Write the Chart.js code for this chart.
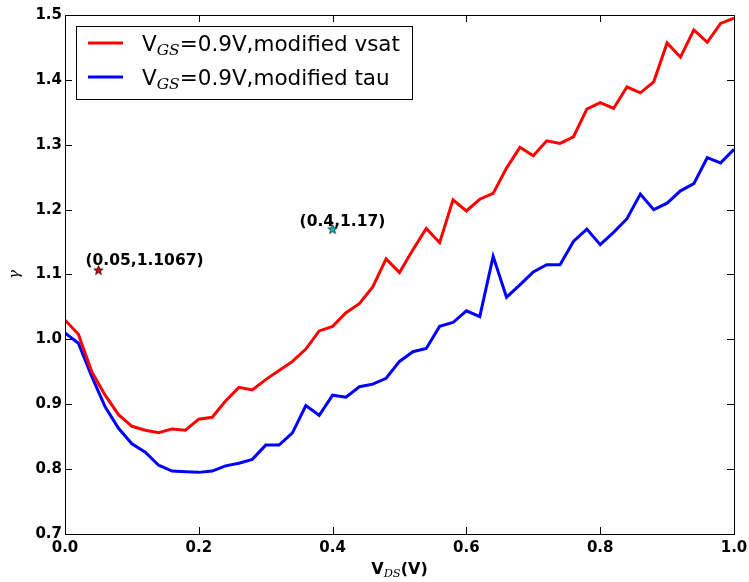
<!DOCTYPE html>
<html>
<head>
<meta charset="utf-8">
<script src="https://cdn.jsdelivr.net/npm/chart.js@4.4.1/dist/chart.umd.min.js"></script>
<style>
  html, body { margin: 0; padding: 0; background: #fff; }
  canvas { display: block; }
</style>
</head>
<body>
<canvas id="chart" width="749" height="582"></canvas>
<script>
// Drain voltage sweep (V)
const vds = [0.00, 0.02, 0.04, 0.06, 0.08, 0.10, 0.12, 0.14, 0.16, 0.18,
             0.20, 0.22, 0.24, 0.26, 0.28, 0.30, 0.32, 0.34, 0.36, 0.38,
             0.40, 0.42, 0.44, 0.46, 0.48, 0.50, 0.52, 0.54, 0.56, 0.58,
             0.60, 0.62, 0.64, 0.66, 0.68, 0.70, 0.72, 0.74, 0.76, 0.78,
             0.80, 0.82, 0.84, 0.86, 0.88, 0.90, 0.92, 0.94, 0.96, 0.98, 1.00];

// gamma with modified vsat
const gammaVsat = [1.030, 1.008, 0.950, 0.914, 0.884, 0.866, 0.860, 0.856, 0.862, 0.860,
                   0.877, 0.880, 0.905, 0.926, 0.922, 0.938, 0.952, 0.966, 0.985, 1.013,
                   1.020, 1.041, 1.055, 1.081, 1.124, 1.103, 1.138, 1.171, 1.149, 1.215,
                   1.198, 1.216, 1.225, 1.264, 1.296, 1.283, 1.306, 1.302, 1.312, 1.355,
                   1.365, 1.356, 1.389, 1.380, 1.397, 1.457, 1.435, 1.477, 1.458, 1.487, 1.495];

// gamma with modified tau
const gammaTau = [1.010, 0.994, 0.943, 0.896, 0.863, 0.839, 0.826, 0.806, 0.797, 0.796,
                  0.795, 0.797, 0.805, 0.809, 0.815, 0.837, 0.837, 0.856, 0.898, 0.883,
                  0.914, 0.911, 0.927, 0.931, 0.940, 0.966, 0.981, 0.986, 1.020, 1.026,
                  1.044, 1.035, 1.128, 1.065, 1.084, 1.104, 1.115, 1.115, 1.151, 1.170,
                  1.146, 1.165, 1.186, 1.224, 1.200, 1.210, 1.229, 1.240, 1.280, 1.272, 1.293];

// Series names (_{..} marks a subscript)
const seriesNames = ['V_{GS}=0.9V,modified vsat', 'V_{GS}=0.9V,modified tau'];

// Marked points
const markX = [0.05, 0.4];
const markY = [1.1067, 1.17];

// Axis ticks
const xTicks = [0.0, 0.2, 0.4, 0.6, 0.8, 1.0];
const yTicks = [0.7, 0.8, 0.9, 1.0, 1.1, 1.2, 1.3, 1.4, 1.5];

const FAMILY = '"DejaVu Sans", sans-serif';
const SUB_FAMILY = '"DejaVu Serif", serif';
const lineColors = ['#ff0000', '#0000ff'];
const markColors = ['#d40000', '#00bfbf'];
const markLabelOffsets = [[-13, -5], [-33, -3]];

function starIcon(fill) {
  const c = document.createElement('canvas');
  c.width = 11; c.height = 11;
  const g = c.getContext('2d');
  g.beginPath();
  for (let i = 0; i < 10; i++) {
    const r = i % 2 ? 2.1 : 5;
    const a = -Math.PI / 2 + i * Math.PI / 5;
    const px = 5.5 + r * Math.cos(a), py = 5.8 + r * Math.sin(a);
    if (i === 0) g.moveTo(px, py); else g.lineTo(px, py);
  }
  g.closePath();
  g.fillStyle = fill;
  g.fill();
  g.strokeStyle = '#000';
  g.lineWidth = 0.7;
  g.stroke();
  return c;
}

// Draw text with _{XY} style subscripts; returns width drawn
function drawRich(ctx, text, x, y, size, weight) {
  const parts = [];
  const re = /_\{([^}]*)\}/g;
  let last = 0, m;
  while ((m = re.exec(text)) !== null) {
    if (m.index > last) parts.push({ t: text.slice(last, m.index), sub: false });
    parts.push({ t: m[1], sub: true });
    last = re.lastIndex;
  }
  if (last < text.length) parts.push({ t: text.slice(last), sub: false });
  let cx = x;
  ctx.textAlign = 'left';
  ctx.textBaseline = 'alphabetic';
  for (const p of parts) {
    if (p.sub) {
      ctx.font = 'italic normal ' + (size * 0.72).toFixed(1) + 'px ' + SUB_FAMILY;
      ctx.fillText(p.t, cx, y + size * 0.2);
    } else {
      ctx.font = weight + ' ' + size + 'px ' + FAMILY;
      ctx.fillText(p.t, cx, y);
    }
    cx += ctx.measureText(p.t).width;
  }
  return cx - x;
}

function measureRich(ctx, text, size, weight) {
  ctx.save();
  ctx.globalAlpha = 0;
  const w = drawRich(ctx, text, 0, 0, size, weight);
  ctx.restore();
  return w;
}

const framePlugin = {
  id: 'frame',
  beforeDraw(chart) {
    const ctx = chart.ctx;
    ctx.save();
    ctx.fillStyle = '#fff';
    ctx.fillRect(0, 0, chart.width, chart.height);
    ctx.restore();
  },
  afterDatasetsDraw(chart) {
    const ctx = chart.ctx;
    const { left, right, top, bottom } = chart.chartArea;
    const xs = chart.scales.x, ys = chart.scales.y;
    ctx.save();

    // annotation labels next to the marked points
    ctx.fillStyle = '#000';
    ctx.font = 'bold 15.5px ' + FAMILY;
    ctx.textAlign = 'left';
    ctx.textBaseline = 'alphabetic';
    for (let i = 0; i < markX.length; i++) {
      const px = xs.getPixelForValue(markX[i]);
      const py = ys.getPixelForValue(markY[i]);
      ctx.fillText('(' + String(markX[i]) + ',' + String(markY[i]) + ')',
                   px + markLabelOffsets[i][0], py + markLabelOffsets[i][1]);
    }

    // axes frame
    ctx.strokeStyle = '#000';
    ctx.lineWidth = 1;
    ctx.strokeRect(Math.round(left) + 0.5, Math.round(top) + 0.5,
                   Math.round(right - left), Math.round(bottom - top));

    // inward ticks on all four sides
    const tl = 7;
    ctx.beginPath();
    for (const v of xTicks) {
      const px = Math.round(xs.getPixelForValue(v)) + 0.5;
      ctx.moveTo(px, bottom); ctx.lineTo(px, bottom - tl);
      ctx.moveTo(px, top); ctx.lineTo(px, top + tl);
    }
    for (const v of yTicks) {
      const py = Math.round(ys.getPixelForValue(v)) + 0.5;
      ctx.moveTo(left, py); ctx.lineTo(left + tl, py);
      ctx.moveTo(right, py); ctx.lineTo(right - tl, py);
    }
    ctx.stroke();

    // legend
    const bx = left + 11, by = top + 11, bw = 336, bh = 73;
    ctx.fillStyle = '#fff';
    ctx.fillRect(bx, by, bw, bh);
    ctx.strokeStyle = '#000';
    ctx.lineWidth = 1;
    ctx.strokeRect(Math.round(bx) + 0.5, Math.round(by) + 0.5, bw, bh);
    for (let i = 0; i < seriesNames.length; i++) {
      const ly = by + 17 + i * 34;
      ctx.strokeStyle = lineColors[i];
      ctx.lineWidth = 3;
      ctx.beginPath();
      ctx.moveTo(bx + 12, ly);
      ctx.lineTo(bx + 47, ly);
      ctx.stroke();
      ctx.fillStyle = '#000';
      drawRich(ctx, seriesNames[i], bx + 66, ly + 8, 21.5, 'normal');
    }

    // x axis title
    const xt = 'V_{DS}(V)';
    const w = measureRich(ctx, xt, 16, 'bold');
    ctx.fillStyle = '#000';
    drawRich(ctx, xt, (left + right) / 2 - w / 2, bottom + 40, 16, 'bold');

    ctx.restore();
  }
};

const tickFont = { family: FAMILY, size: 15, weight: 'bold' };

new Chart(document.getElementById('chart'), {
  type: 'line',
  data: {
    datasets: [
      {
        label: seriesNames[0],
        data: vds.map((x, i) => ({ x, y: gammaVsat[i] })),
        borderColor: lineColors[0],
        borderWidth: 3,
        pointRadius: 0,
        tension: 0,
        fill: false
      },
      {
        label: seriesNames[1],
        data: vds.map((x, i) => ({ x, y: gammaTau[i] })),
        borderColor: lineColors[1],
        borderWidth: 3,
        pointRadius: 0,
        tension: 0,
        fill: false
      },
      {
        label: 'mark1',
        data: [{ x: markX[0], y: markY[0] }],
        showLine: false,
        pointStyle: starIcon(markColors[0]),
        pointRadius: 5
      },
      {
        label: 'mark2',
        data: [{ x: markX[1], y: markY[1] }],
        showLine: false,
        pointStyle: starIcon(markColors[1]),
        pointRadius: 5
      }
    ]
  },
  options: {
    responsive: false,
    animation: false,
    events: [],
    layout: { padding: { top: 15, right: 15, left: 0, bottom: 0 } },
    plugins: {
      legend: { display: false },
      tooltip: { enabled: false }
    },
    scales: {
      x: {
        type: 'linear',
        min: 0,
        max: 1,
        afterBuildTicks: s => { s.ticks = xTicks.map(v => ({ value: v })); },
        afterFit: s => { s.height = 48; s.paddingLeft = 0; s.paddingRight = 0; },
        ticks: {
          callback: v => Number(v).toFixed(1),
          font: tickFont,
          color: '#000',
          padding: 5,
          maxRotation: 0,
          autoSkip: false
        },
        grid: { display: false, drawTicks: false },
        border: { display: false }
      },
      y: {
        type: 'linear',
        min: 0.7,
        max: 1.5,
        afterBuildTicks: s => { s.ticks = yTicks.map(v => ({ value: v })); },
        afterFit: s => { s.width = 65; s.paddingTop = 0; s.paddingBottom = 0; },
        ticks: {
          callback: v => Number(v).toFixed(1),
          font: tickFont,
          color: '#000',
          padding: 3,
          autoSkip: false
        },
        grid: { display: false, drawTicks: false },
        border: { display: false },
        title: {
          display: true,
          text: 'γ',
          color: '#000',
          font: { family: '"DejaVu Serif", serif', size: 15, style: 'italic' },
          padding: { top: 6, bottom: 0 }
        }
      }
    }
  },
  plugins: [framePlugin]
});
</script>
</body>
</html>
